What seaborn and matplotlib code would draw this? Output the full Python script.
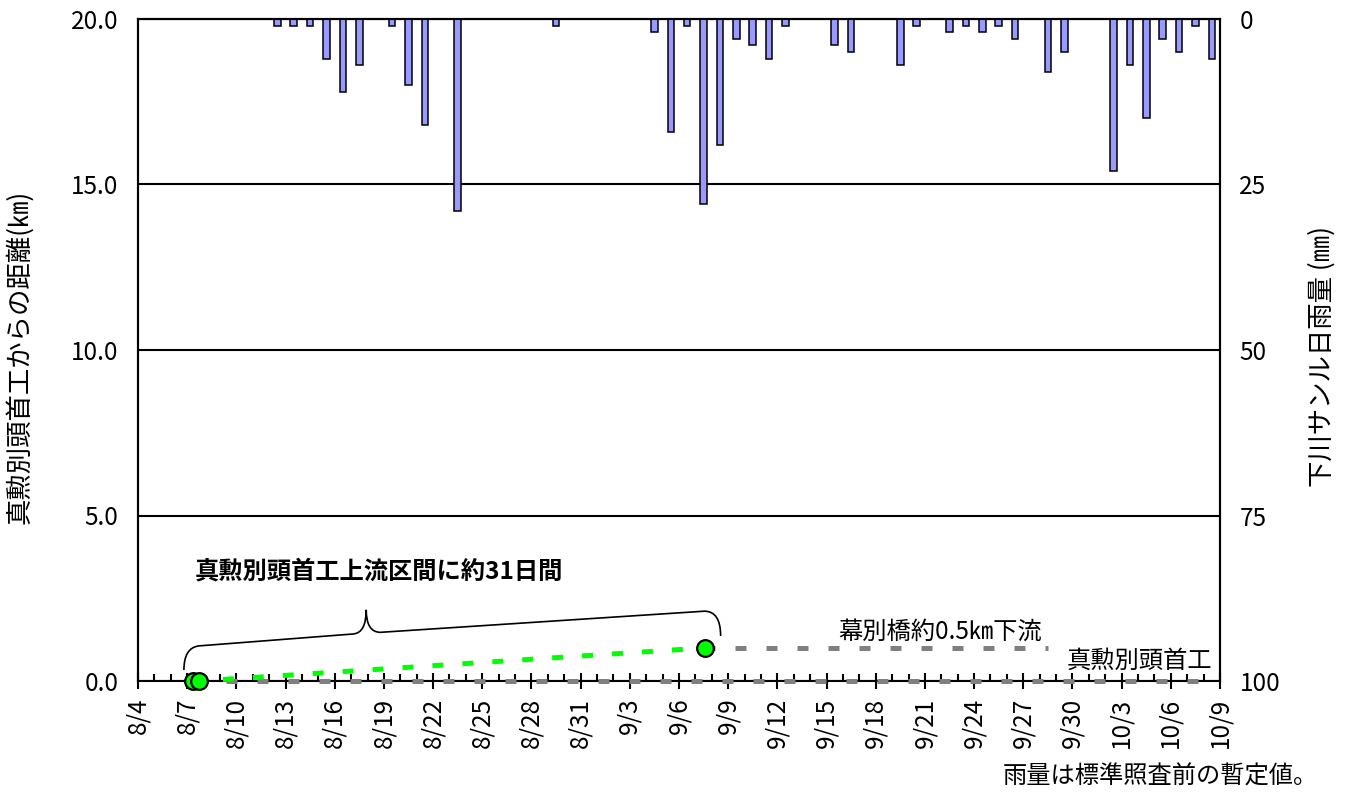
import numpy as np
import pandas as pd
import matplotlib
matplotlib.use("Agg")
import matplotlib.pyplot as plt
from matplotlib.path import Path
from matplotlib.patches import PathPatch
import seaborn as sns

# ---------- data
start = pd.Timestamp("2023-08-04")
end = pd.Timestamp("2023-10-09")

rain_dates = ["8/12", "8/13", "8/14", "8/15", "8/16", "8/17", "8/19", "8/20", "8/21", "8/23",
              "8/29", "9/4", "9/5", "9/6", "9/7", "9/8", "9/9", "9/10", "9/11", "9/12",
              "9/15", "9/16", "9/19", "9/20", "9/22", "9/23", "9/24", "9/25", "9/26", "9/28",
              "9/29", "10/2", "10/3", "10/4", "10/5", "10/6", "10/7", "10/8"]
rain_mm = [1, 1, 1, 6, 11, 7, 1, 10, 16, 29,
           1, 2, 17, 1, 28, 19, 3, 4, 6, 1,
           4, 5, 7, 1, 2, 1, 2, 1, 3, 8,
           5, 23, 7, 15, 3, 5, 1, 6]

# green: position of the fish (days after 8/4, km from weir)
fish_day = [3.35, 3.75, 34.57]
fish_km = [0.0, 0.0, 1.0]

# reference lines
weir_day = [3.5, 65.5]
weir_km = [0.0, 0.0]
bridge_day = [34.5, 55.5]
bridge_km = [1.0, 1.0]


def to_day(md):
    m, d = md.split("/")
    return (pd.Timestamp(2023, int(m), int(d)) - start).days


rain = pd.DataFrame({"day": [to_day(s) + 0.5 for s in rain_dates], "mm": rain_mm})
n_days = (end - start).days
tick_days = list(range(0, n_days + 1, 3))
tick_labels = [f"{(start + pd.Timedelta(days=d)).month}/{(start + pd.Timedelta(days=d)).day}"
               for d in tick_days]

# ---------- style
sns.set_style("white")
plt.rcParams["font.family"] = ["Noto Sans CJK JP", "DejaVu Sans"]
plt.rcParams["axes.linewidth"] = 1.5
plt.rcParams["text.color"] = "black"
plt.rcParams["axes.labelcolor"] = "black"
plt.rcParams["xtick.color"] = "black"
plt.rcParams["ytick.color"] = "black"

fig = plt.figure(figsize=(13.5, 8.09), dpi=100)
ax = fig.add_axes([138 / 1350, 1 - 681 / 809, (1220 - 138) / 1350, (681 - 19) / 809])
ax2 = ax.twinx()

# rainfall bars, hanging from the top
sns.barplot(data=rain, x="day", y="mm", native_scale=True, width=0.4, color="#9999ff",
            saturation=1, edgecolor="black", linewidth=1.1, ax=ax2)
ax2.set_ylim(100, 0)
ax2.set_yticks([0, 25, 50, 75, 100])
ax2.set_ylabel("下川サンル日雨量 (㎜)", fontsize=19)
ax2.yaxis.set_label_coords(1.0813, 0.49)
ax2.tick_params(axis="y", length=0, pad=14, labelsize=17.5, labelcolor="black")

# lines
sns.lineplot(x=weir_day, y=weir_km, ax=ax, color="#808080", lw=3.6,
             linestyle=(0, (2.2, 4.0)), zorder=3, clip_on=False)
sns.lineplot(x=bridge_day, y=bridge_km, ax=ax, color="#808080", lw=3.6,
             linestyle=(0, (2.2, 4.0)), zorder=3, clip_on=False)
sns.lineplot(x=fish_day, y=fish_km, ax=ax, color="#00ff00", lw=3.6,
             linestyle=(0, (2.2, 3.8)), marker="o", markersize=12,
             markerfacecolor="#00ff00", markeredgecolor="black", markeredgewidth=1.6,
             zorder=4, clip_on=False)

ax.set_xlim(0, n_days)
ax.set_ylim(0, 20)
ax.set_xticks(tick_days)
ax.set_xticklabels(tick_labels, rotation=90)
ax.set_xticks(range(0, n_days + 1), minor=True)
ax.tick_params(axis="x", which="both", bottom=True, color="black")
ax.tick_params(axis="x", which="major", direction="inout", length=12, width=1.5,
               pad=6, labelsize=17.5, labelcolor="black")
ax.tick_params(axis="x", which="minor", direction="in", length=5, width=1.5)
ax.set_yticks([0, 5, 10, 15, 20])
ax.set_yticklabels([f"{v:.1f}" for v in [0, 5, 10, 15, 20]])
ax.tick_params(axis="y", length=0, pad=14, labelsize=17.5, labelcolor="black")
ax.yaxis.grid(True, color="black", lw=1.5)
ax.set_axisbelow(True)
ax.set_xlabel("")
ax.set_ylabel("真勲別頭首工からの距離(㎞)", fontsize=19)
ax.yaxis.set_label_coords(-0.097, 0.49)
for a in (ax, ax2):
    for s in a.spines.values():
        s.set_color("black")
        s.set_linewidth(1.5)
# keep the twin's bottom spine from covering the dashed weir line
ax2.spines["bottom"].set_visible(False)

# brace over the upstream stay
x0, x1 = fish_day[1], fish_day[-1]
xm = x0 + 0.33 * (x1 - x0)
verts = [(x0 - 0.95, 0.33), (x0 - 0.95, 1.0), (x0 - 0.05, 1.06),
         (xm - 0.8, 1.42), (xm, 1.45), (xm, 2.15),
         (xm, 1.48), (xm + 0.85, 1.47),
         (x1, 2.11), (x1 + 0.97, 2.1), (x1 + 0.97, 1.36)]
codes = [Path.MOVETO, Path.CURVE3, Path.CURVE3,
         Path.LINETO, Path.CURVE3, Path.CURVE3,
         Path.CURVE3, Path.CURVE3,
         Path.LINETO, Path.CURVE3, Path.CURVE3]
ax.add_patch(PathPatch(Path(verts, codes), facecolor="none", edgecolor="black", lw=1.2))

ax.text(3.45, 3.32, "真勲別頭首工上流区間に約31日間", ha="left", va="center",
        fontsize=17.5, fontweight="bold")
ax.text(48.9, 1.48, "幕別橋約0.5㎞下流", ha="center", va="center", fontsize=17.5)
ax.text(65.5, 0.6, "真勲別頭首工", ha="right", va="center", fontsize=17.5)

fig.text(1318 / 1350, 1 - 777 / 809, "雨量は標準照査前の暫定値。", ha="right", va="center",
         fontsize=17.5)

plt.savefig("out.png", dpi=100)
